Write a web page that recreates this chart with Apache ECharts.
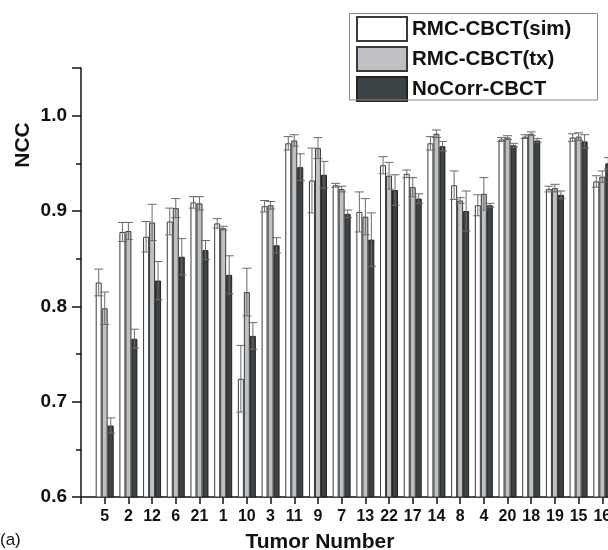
<!DOCTYPE html>
<html>
<head>
<meta charset="utf-8">
<script src="https://cdn.jsdelivr.net/npm/echarts@6/dist/echarts.min.js"></script>
<style>
html,body{margin:0;padding:0;background:#fff;}
#c{width:608px;height:550px;}
</style>
</head>
<body>
<div id="c"></div>
<script>
var categories = ['5','2','12','6','21','1','10','3','11','9','7','13','22','17','14','8','4','20','18','19','15','16'];
var seriesNames = ['RMC-CBCT(sim)','RMC-CBCT(tx)','NoCorr-CBCT'];
var simValues = [0.825,0.878,0.873,0.889,0.909,0.887,0.724,0.905,0.971,0.932,0.927,0.899,0.948,0.939,0.971,0.927,0.906,0.975,0.978,0.923,0.977,0.931];
var simErrors = [0.014,0.010,0.016,0.014,0.006,0.005,0.035,0.006,0.007,0.034,0.002,0.021,0.009,0.004,0.007,0.015,0.011,0.002,0.002,0.003,0.004,0.006];
var txValues = [0.798,0.879,0.888,0.903,0.908,0.882,0.815,0.906,0.974,0.966,0.923,0.894,0.937,0.925,0.981,0.911,0.918,0.977,0.981,0.924,0.978,0.936];
var txErrors = [0.017,0.009,0.019,0.010,0.007,0.002,0.025,0.004,0.006,0.011,0.003,0.019,0.014,0.010,0.004,0.003,0.017,0.002,0.002,0.004,0.004,0.006];
var noCorrValues = [0.675,0.766,0.827,0.852,0.859,0.833,0.769,0.864,0.946,0.938,0.897,0.870,0.922,0.913,0.968,0.900,0.906,0.969,0.974,0.917,0.973,0.950];
var noCorrErrors = [0.008,0.010,0.020,0.019,0.010,0.020,0.014,0.008,0.014,0.014,0.004,0.028,0.016,0.005,0.005,0.021,0.002,0.002,0.002,0.004,0.007,0.006];
var yTickLabels = ['0.6','0.7','0.8','0.9','1.0'];

var FONT = 'Liberation Sans, Arial, sans-serif';
var BAR_W = 6;
var fills = ['#ffffff','#bfc0c3','#3b4346'];
var borders = ['#3a3a3a','#3a3a3a','#222222'];

var axisCats = [''].concat(categories).concat(['']);
var valueSets = [simValues, txValues, noCorrValues];
var errorSets = [simErrors, txErrors, noCorrErrors];

var series = [];
valueSets.forEach(function (vals, s) {
  series.push({
    name: seriesNames[s],
    type: 'bar',
    barWidth: BAR_W,
    barGap: '0%',
    data: vals.map(function (v, i) { return [i + 1, v]; }),
    itemStyle: { color: fills[s], borderColor: borders[s], borderWidth: 1 },
    emphasis: { disabled: true },
    z: 2
  });
});
valueSets.forEach(function (vals, s) {
  var errs = errorSets[s];
  series.push({
    type: 'custom',
    name: seriesNames[s] + ' err',
    z: 5,
    encode: { x: 0, y: 1 },
    data: vals.map(function (v, i) { return [i + 1, v, errs[i]]; }),
    renderItem: function (params, api) {
      var idx = api.value(0), v = api.value(1), e = api.value(2);
      var top = api.coord([idx, v + e]);
      var bot = api.coord([idx, v - e]);
      var x = top[0] + (s - 1) * BAR_W;
      var cw = 4.5;
      var st = { stroke: '#6a6a6a', lineWidth: 1 };
      return {
        type: 'group',
        children: [
          { type: 'line', shape: { x1: x, y1: top[1], x2: x, y2: bot[1] }, style: st },
          { type: 'line', shape: { x1: x - cw, y1: top[1], x2: x + cw, y2: top[1] }, style: st },
          { type: 'line', shape: { x1: x - cw, y1: bot[1], x2: x + cw, y2: bot[1] }, style: st }
        ]
      };
    }
  });
});

var chart = echarts.init(document.getElementById('c'), null, { renderer: 'canvas' });
chart.setOption({
  animation: false,
  backgroundColor: '#ffffff',
  textStyle: { fontFamily: FONT },
  grid: { left: 81, top: 68, width: 545, height: 429, containLabel: false, outerBoundsMode: 'none' },
  legend: {
    data: seriesNames,
    orient: 'vertical',
    left: 356,
    top: 16,
    padding: 0,
    itemWidth: 50,
    itemHeight: 24,
    itemGap: 4,
    icon: 'rect',
    borderWidth: 0,
    textStyle: { fontFamily: FONT, fontSize: 20.5, fontWeight: 'bold', color: '#111' }
  },
  xAxis: {
    type: 'category',
    data: axisCats,
    boundaryGap: false,
    axisLine: { lineStyle: { color: '#111', width: 1.5 } },
    axisTick: { show: true, alignWithLabel: true, length: 7, lineStyle: { color: '#111', width: 1.5 } },
    axisLabel: { color: '#111', fontSize: 16, fontWeight: 'bold', fontFamily: FONT, margin: 12, interval: 0 },
    splitLine: { show: false }
  },
  yAxis: {
    type: 'value',
    min: 0.6,
    max: 1.05,
    interval: 0.1,
    axisLine: { show: true, lineStyle: { color: '#111', width: 1.5 } },
    axisTick: { show: true, length: 9, lineStyle: { color: '#111', width: 1.5 } },
    minorTick: { show: true, splitNumber: 2, length: 5, lineStyle: { color: '#111', width: 1.5 } },
    axisLabel: {
      color: '#111', fontSize: 19, fontWeight: 'bold', fontFamily: FONT, margin: 14,
      formatter: function (v) {
        var k = Math.round((v - 0.6) / 0.1);
        if (Math.abs(v - (0.6 + k * 0.1)) > 1e-6) return '';
        return yTickLabels[k] || '';
      }
    },
    splitLine: { show: false }
  },
  graphic: [
    { type: 'rect', shape: { x: 349.5, y: 13.5, width: 248, height: 86.5 },
      style: { fill: 'none', stroke: '#8a8a8a', lineWidth: 1 }, z: 10 },
    { type: 'text', x: 23, y: 145, rotation: Math.PI / 2,
      style: { text: 'NCC', font: 'bold 21px ' + FONT, fill: '#111', textAlign: 'center', textVerticalAlign: 'middle' } },
    { type: 'text', x: 320, y: 542,
      style: { text: 'Tumor Number', font: 'bold 21px ' + FONT, fill: '#111', textAlign: 'center', textVerticalAlign: 'middle' } },
    { type: 'text', x: 0, y: 540,
      style: { text: '(a)', font: '17px ' + FONT, fill: '#111', textAlign: 'left', textVerticalAlign: 'middle' } }
  ],
  series: series
});
</script>
</body>
</html>
